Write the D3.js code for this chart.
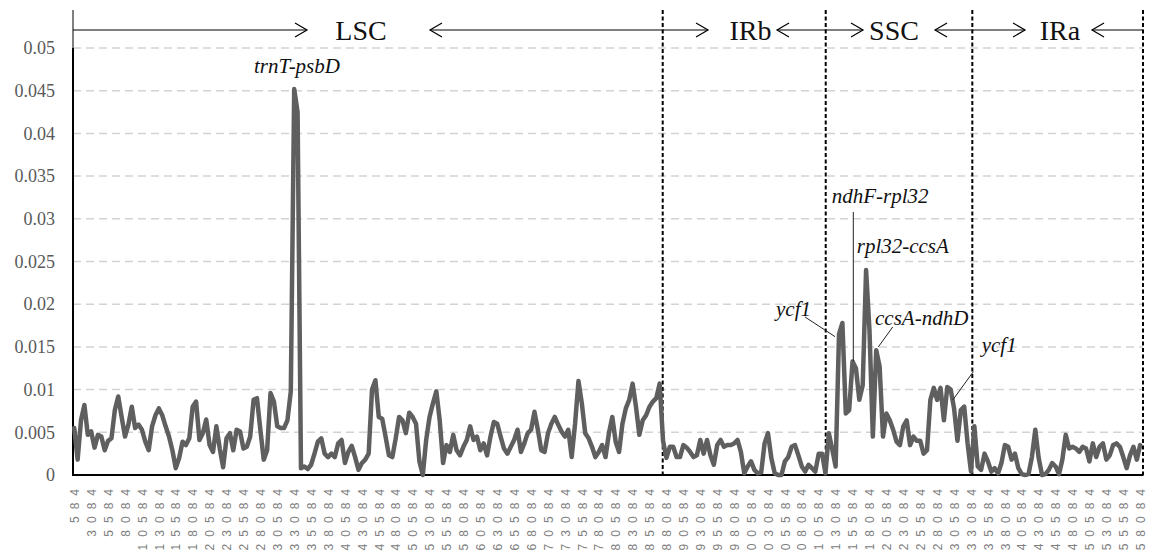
<!DOCTYPE html>
<html>
<head>
<meta charset="utf-8">
<script src="https://cdn.jsdelivr.net/npm/d3@7"></script>
<style>
  body { margin: 0; background: #fff; }
</style>
</head>
<body>
<div id="chart"></div>
<script>
// valori Pi per finestra (passo 500 bp, prima finestra a 584)
var lscPi = [
  0.0055,0.0018,0.0064,0.0082,0.0047,0.0051,0.0032,0.0047,0.0045,0.0029,
  0.0040,0.0043,0.0076,0.0092,0.0068,0.0045,0.0059,0.0080,0.0055,0.0059,
  0.0053,0.0039,0.0029,0.0057,0.0070,0.0078,0.0070,0.0057,0.0045,0.0029,
  0.0008,0.0020,0.0039,0.0035,0.0043,0.0080,0.0086,0.0041,0.0049,0.0065,
  0.0035,0.0027,0.0057,0.0031,0.0009,0.0043,0.0049,0.0029,0.0053,0.0051,
  0.0031,0.0033,0.0045,0.0088,0.0090,0.0053,0.0018,0.0029,0.0096,0.0086,
  0.0057,0.0055,0.0055,0.0064,0.0098,0.0452,0.0425,0.0008,0.0010,0.0007,
  0.0012,0.0025,0.0039,0.0043,0.0025,0.0021,0.0025,0.0021,0.0037,0.0041,
  0.0014,0.0027,0.0034,0.0021,0.0006,0.0014,0.0018,0.0025,0.0100,0.0111,
  0.0068,0.0066,0.0045,0.0023,0.0021,0.0043,0.0068,0.0064,0.0049,0.0073,
  0.0068,0.0060,0.0016,0.0000,0.0041,0.0068,0.0084,0.0098,0.0064,0.0014,
  0.0035,0.0027,0.0047,0.0029,0.0023,0.0033,0.0041,0.0057,0.0041,0.0045,
  0.0029,0.0037,0.0023,0.0045,0.0062,0.0060,0.0045,0.0031,0.0025,0.0033,
  0.0041,0.0053,0.0027,0.0037,0.0049,0.0053,0.0074,0.0053,0.0029,0.0027,
  0.0049,0.0060,0.0068,0.0059,0.0051,0.0045,0.0053,0.0021,0.0060,0.0110,
  0.0084,0.0049,0.0043,0.0033,0.0021,0.0027,0.0035,0.0021,0.0049,0.0068,
  0.0039,0.0027,0.0060,0.0078,0.0088,0.0107,0.0080,0.0047,0.0064,0.0070,
  0.0080,0.0086,0.0090,0.0107
];
var irbPi = [
  0.0040,0.0020,0.0033,0.0033,0.0021,0.0021,0.0035,0.0032,0.0027,0.0021,
  0.0023,0.0041,0.0025,0.0041,0.0023,0.0012,0.0035,0.0041,0.0033,0.0035,
  0.0035,0.0037,0.0041,0.0027,0.0002,0.0010,0.0016,0.0006,0.0002,0.0003,
  0.0037,0.0049,0.0020,0.0002,0.0000,0.0000,0.0016,0.0021,0.0033,0.0035,
  0.0023,0.0010,0.0004,0.0012,0.0008,0.0004,0.0025,0.0025,0.0002
];
var sscPi = [
  0.0049,0.0030,0.0010,0.0165,0.0178,0.0072,0.0076,0.0133,0.0125,0.0088,
  0.0105,0.0240,0.0170,0.0045,0.0146,0.0127,0.0045,0.0072,0.0064,0.0053,
  0.0039,0.0035,0.0057,0.0064,0.0035,0.0045,0.0040,0.0040,0.0025,0.0029,
  0.0088,0.0102,0.0088,0.0102,0.0064,0.0103,0.0100,0.0078,0.0040,0.0076,
  0.0080,0.0037,0.0004
];
var iraPi = [
  0.0057,0.0010,0.0006,0.0025,0.0016,0.0004,0.0008,0.0002,0.0014,0.0035,
  0.0033,0.0018,0.0025,0.0008,0.0001,0.0000,0.0001,0.0021,0.0053,0.0020,
  0.0000,0.0001,0.0006,0.0014,0.0010,0.0001,0.0018,0.0047,0.0031,0.0033,
  0.0031,0.0027,0.0033,0.0031,0.0016,0.0037,0.0021,0.0033,0.0037,0.0018,
  0.0023,0.0035,0.0037,0.0033,0.0021,0.0008,0.0023,0.0033,0.0018,0.0035
];
var firstWindow = 584, windowStep = 500;

// etichette assi
var xTicks = d3.range(584, 158085, 2500);
var yTicks = [0, 0.005, 0.01, 0.015, 0.02, 0.025, 0.03, 0.035, 0.04, 0.045, 0.05];

// confini delle regioni (bp)
var boundaries = [87534, 111619, 133280, 158500];
var regionNames = ["LSC", "IRb", "SSC", "IRa"];
var regionCenters = [42955, 100508, 121711, 146239];
// frecce: [inizio, fine, punta sinistra, punta destra]
var arrows = [
  [400, 34975, false, true],
  [53150, 94228, true, true],
  [104423, 117131, true, true],
  [127770, 141068, true, true],
  [150968, 158500, true, false]
];
// etichette geni: testo, bp, pi, linea guida [bp1, pi1, bp2, pi2]
var genes = [
  ["trnT-psbD", 27145, 0.0471, null],
  ["ndhF-rpl32", 112504, 0.0318, [115696, 0.0308, 115696, 0.0133]],
  ["rpl32-ccsA", 116200, 0.0260, null],
  ["ycf1", 104275, 0.0186, [108561, 0.0185, 112995, 0.0162]],
  ["ccsA-ndhD", 118904, 0.01757, [121519, 0.01733, 119391, 0.0150]],
  ["ycf1", 134670, 0.01444, [133429, 0.0121, 130385, 0.00878]]
];

var data = lscPi.concat(irbPi, sscPi, iraPi).map(function(v, i) {
  return {pos: firstWindow + i * windowStep, pi: v};
});

var width = 1157, height = 551;
var svg = d3.select("#chart").append("svg")
  .attr("width", width)
  .attr("height", height);

var x = d3.scaleLinear().domain([400, 158500]).range([73, 1143]);
var y = d3.scaleLinear().domain([0, 0.05]).range([475, 48]);

// griglia orizzontale
svg.append("g")
  .selectAll("line")
  .data(yTicks.slice(1))
  .enter().append("line")
    .attr("x1", x(400)).attr("x2", x(158500))
    .attr("y1", function(d) { return y(d); })
    .attr("y2", function(d) { return y(d); })
    .style("stroke", "#d3d3d3")
    .style("stroke-width", 1.5)
    .style("stroke-dasharray", "8,5");

// asse Y
var yAxis = svg.append("g")
  .attr("transform", "translate(" + x(400) + ",0)")
  .call(d3.axisLeft(y).tickValues(yTicks).tickSize(0).tickPadding(18)
    .tickFormat(function(d) { return d === 0 ? "0" : String(+d.toFixed(3)); }));
yAxis.select(".domain").remove();
yAxis.selectAll("text")
  .style("font-family", "'Liberation Serif', serif")
  .style("font-size", "18px")
  .style("fill", "#595959");

// asse X
var xAxis = svg.append("g")
  .attr("transform", "translate(0," + y(0) + ")")
  .call(d3.axisBottom(x).tickValues(xTicks).tickSize(0).tickFormat(d3.format("d")));
xAxis.select(".domain").remove();
xAxis.selectAll("text")
  .attr("transform", "rotate(-90)")
  .attr("text-anchor", "end")
  .attr("x", -7)
  .attr("y", 0)
  .attr("dy", "0.35em")
  .style("font-family", "'Liberation Sans', sans-serif")
  .style("font-size", "12px")
  .style("letter-spacing", "7px")
  .style("fill", "#808080");

// linee degli assi
svg.append("line")
  .attr("x1", x(400)).attr("x2", x(400)).attr("y1", 10).attr("y2", y(0.05))
  .style("stroke", "#000").style("stroke-width", 1);
svg.append("line")
  .attr("x1", x(400)).attr("x2", x(400)).attr("y1", y(0.05)).attr("y2", y(0) + 1)
  .style("stroke", "#000").style("stroke-width", 2);
svg.append("line")
  .attr("x1", x(400)).attr("x2", x(158500)).attr("y1", y(0)).attr("y2", y(0))
  .style("stroke", "#000").style("stroke-width", 2);

// confini tratteggiati
svg.append("g")
  .selectAll("line")
  .data(boundaries)
  .enter().append("line")
    .attr("x1", function(d) { return x(d); })
    .attr("x2", function(d) { return x(d); })
    .attr("y1", 10).attr("y2", y(0) + 3)
    .style("stroke", "#000")
    .style("stroke-width", 2)
    .style("stroke-dasharray", "4,2.5");

// serie
svg.append("path")
  .datum(data)
  .attr("d", d3.line()
    .x(function(d) { return x(d.pos); })
    .y(function(d) { return y(d.pi); }))
  .style("fill", "none")
  .style("stroke", "#5f5f5f")
  .style("stroke-width", 4.5)
  .style("stroke-linejoin", "round")
  .style("stroke-linecap", "round");

// frecce regioni
var arrowY = 30;
var arrowG = svg.append("g").style("stroke", "#000").style("stroke-width", 1.2).style("fill", "none");
arrows.forEach(function(a) {
  var x1 = x(a[0]), x2 = x(a[1]);
  arrowG.append("line").attr("x1", x1).attr("x2", x2).attr("y1", arrowY).attr("y2", arrowY);
  if (a[2]) arrowG.append("path").attr("d", "M" + (x1 + 12) + "," + (arrowY - 7) + "L" + x1 + "," + arrowY + "L" + (x1 + 12) + "," + (arrowY + 7));
  if (a[3]) arrowG.append("path").attr("d", "M" + (x2 - 12) + "," + (arrowY - 7) + "L" + x2 + "," + arrowY + "L" + (x2 - 12) + "," + (arrowY + 7));
});

svg.append("g")
  .selectAll("text")
  .data(regionNames)
  .enter().append("text")
    .attr("x", function(d, i) { return x(regionCenters[i]); })
    .attr("y", 40)
    .attr("text-anchor", "middle")
    .style("font-family", "'Liberation Serif', serif")
    .style("font-size", "28px")
    .style("fill", "#111")
    .text(function(d) { return d; });

// etichette geni
var geneG = svg.append("g");
genes.forEach(function(d) {
  geneG.append("text")
    .attr("x", x(d[1]))
    .attr("y", y(d[2]))
    .style("font-family", "'Liberation Serif', serif")
    .style("font-style", "italic")
    .style("font-size", "21px")
    .style("fill", "#111")
    .text(d[0]);
  if (d[3]) {
    geneG.append("line")
      .attr("x1", x(d[3][0])).attr("y1", y(d[3][1]))
      .attr("x2", x(d[3][2])).attr("y2", y(d[3][3]))
      .style("stroke", "#222")
      .style("stroke-width", 1);
  }
});
</script>
</body>
</html>
